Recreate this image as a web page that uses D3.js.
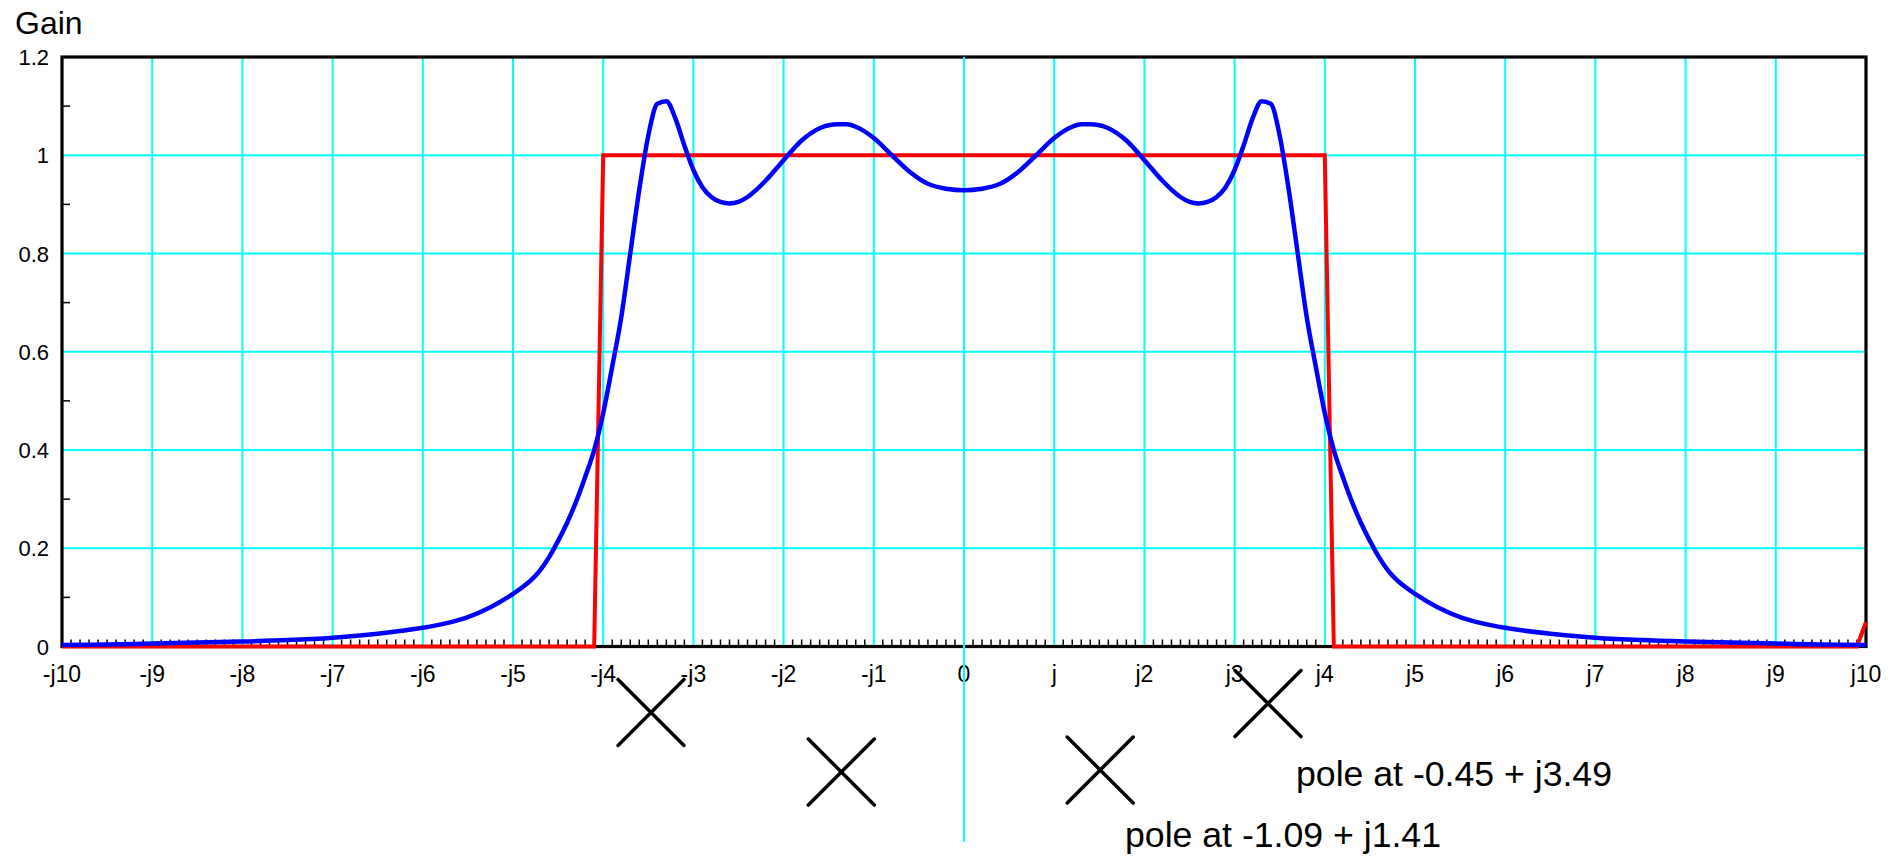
<!DOCTYPE html>
<html>
<head>
<meta charset="utf-8">
<script src="https://cdn.jsdelivr.net/npm/d3@7"></script>
<style>
  body { margin: 0; background: #fff; }
  text { font-family: "Liberation Sans", Arial, sans-serif; fill: #000; }
</style>
</head>
<body>
<div id="chart"></div>
<script>
// Data
const gainX = [-10, -9.5, -9, -8.5, -8, -7.5, -7, -6.5, -6, -5.75, -5.5, -5.25, -5, -4.9, -4.8, -4.7, -4.6, -4.5, -4.4, -4.3, -4.2, -4.1,
  -4, -3.9, -3.8, -3.7, -3.6, -3.5, -3.4, -3.3, -3.2, -3.1, -3, -2.9, -2.8, -2.7, -2.6, -2.5, -2.4, -2.3, -2.2, -2,
  -1.8, -1.6, -1.4, -1.3, -1.2, -1, -0.8, -0.6, -0.4, -0.2, 0,
  0.2, 0.4, 0.6, 0.8, 1, 1.2, 1.3, 1.4, 1.6, 1.8, 2, 2.2, 2.3, 2.4, 2.5, 2.6, 2.7, 2.8, 2.9, 3,
  3.1, 3.2, 3.3, 3.4, 3.5, 3.6, 3.7, 3.8, 3.9, 4, 4.1, 4.2, 4.3, 4.4, 4.5, 4.6, 4.7, 4.8, 4.9, 5, 5.25, 5.5,
  5.75, 6, 6.5, 7, 7.5, 8, 8.5, 9, 9.5, 10]
const gainY = [0.003, 0.004, 0.006, 0.008, 0.010, 0.013, 0.018, 0.026, 0.038, 0.047, 0.060, 0.080, 0.107, 0.120, 0.135, 0.155, 0.182, 0.215, 0.252, 0.295, 0.345, 0.400,
  0.475, 0.57, 0.67, 0.80, 0.93, 1.04, 1.105, 1.11, 1.075, 1.02, 0.97, 0.935, 0.915, 0.905, 0.902, 0.905, 0.915, 0.93, 0.948, 0.99,
  1.03, 1.055, 1.063, 1.063, 1.058, 1.035, 1.0, 0.966, 0.942, 0.932, 0.929,
  0.932, 0.942, 0.966, 1.0, 1.035, 1.058, 1.063, 1.063, 1.055, 1.03, 0.99, 0.948, 0.93, 0.915, 0.905, 0.902, 0.905, 0.915, 0.935, 0.97,
  1.02, 1.075, 1.11, 1.105, 1.04, 0.93, 0.80, 0.67, 0.57, 0.475, 0.400, 0.345, 0.295, 0.252, 0.215, 0.182, 0.155, 0.135, 0.120, 0.107, 0.080, 0.060,
  0.047, 0.038, 0.026, 0.018, 0.013, 0.010, 0.008, 0.006, 0.004, 0.003]

const idealX = [-10, -4.1, -4.0, 4.0, 4.1, 9.9, 10]
const idealY = [0, 0, 1, 1, 0, 0, 0.05]

const xTicks = d3.range(-10, 11)
const xTickLabels = ["-j10", "-j9", "-j8", "-j7", "-j6", "-j5", "-j4", "-j3", "-j2", "-j1", "0",
  "j", "j2", "j3", "j4", "j5", "j6", "j7", "j8", "j9", "j10"]
const yTicks = [0, 0.2, 0.4, 0.6, 0.8, 1, 1.2]
const yTickLabels = ["0", "0.2", "0.4", "0.6", "0.8", "1", "1.2"]

// pole markers (imaginary part along x, real part below the axis)
const poleIm = [-3.47, -1.36, 1.51, 3.37]
const poleRe = [-0.50, -1.10, -1.08, -0.41]
const poleLabels = ["pole at -0.45 + j3.49", "pole at -1.09 + j1.41"]

// Layout
const W = 1904
const H = 860
const mLeft = 62, mRight = 1866, mTop = 57, mBottom = 646.5

const x = d3.scaleLinear().domain([-10, 10]).range([mLeft, mRight])
const y = d3.scaleLinear().domain([0, 1.2]).range([mBottom, mTop])
const yPole = d3.scaleLinear().domain([-0.45, -1.09]).range([707.5, 771])

const svg = d3.select("#chart").append("svg")
    .attr("width", W)
    .attr("height", H)

// grid
svg.append("g")
    .attr("stroke", "#00ffff")
    .attr("stroke-width", 2)
    .selectAll("line")
    .data(xTicks.filter(d => d > -10 && d < 10 && d != 0))
    .join("line")
    .attr("x1", d => x(d)).attr("x2", d => x(d))
    .attr("y1", y(1.2)).attr("y2", y(0))

svg.append("g")
    .attr("stroke", "#00ffff")
    .attr("stroke-width", 2)
    .selectAll("line")
    .data(yTicks.filter(d => d > 0 && d < 1.2))
    .join("line")
    .attr("x1", mLeft).attr("x2", mRight)
    .attr("y1", d => y(d)).attr("y2", d => y(d))

// minor ticks
const xMinor = d3.range(-100, 101).filter(d => d % 10 != 0).map(d => d / 10)
svg.append("g")
    .attr("stroke", "#000")
    .attr("stroke-width", 1.5)
    .selectAll("line")
    .data(xMinor)
    .join("line")
    .attr("x1", d => x(d)).attr("x2", d => x(d))
    .attr("y1", mBottom).attr("y2", mBottom - 7)

const yMinor = [0.1, 0.3, 0.5, 0.7, 0.9, 1.1]
svg.append("g")
    .attr("stroke", "#000")
    .attr("stroke-width", 1.5)
    .selectAll("line")
    .data(yMinor)
    .join("line")
    .attr("x1", mLeft).attr("x2", mLeft + 8)
    .attr("y1", d => y(d)).attr("y2", d => y(d))

// frame
svg.append("rect")
    .attr("x", mLeft).attr("y", mTop)
    .attr("width", mRight - mLeft).attr("height", mBottom - mTop)
    .attr("fill", "none")
    .attr("stroke", "#000")
    .attr("stroke-width", 3.2)

// tick labels
svg.append("g")
    .attr("font-size", 22)
    .attr("text-anchor", "end")
    .selectAll("text")
    .data(yTicks)
    .join("text")
    .attr("x", mLeft - 13)
    .attr("y", d => y(d) + 8)
    .text((d, i) => yTickLabels[i])

svg.append("g")
    .attr("font-size", 23)
    .attr("text-anchor", "middle")
    .selectAll("text")
    .data(xTicks)
    .join("text")
    .attr("x", d => x(d))
    .attr("y", 682)
    .text((d, i) => xTickLabels[i])

svg.append("text")
    .attr("x", 15).attr("y", 34)
    .attr("font-size", 32)
    .text("Gain")

// zero line runs down through the pole plane
svg.append("line")
    .attr("x1", x(0)).attr("x2", x(0))
    .attr("y1", y(1.2)).attr("y2", 842)
    .attr("stroke", "#00ffff")
    .attr("stroke-width", 2)

// curves
const ideal = d3.line()
    .x((d, i) => x(idealX[i]))
    .y(d => y(d))
svg.append("path")
    .datum(idealY)
    .attr("fill", "none")
    .attr("stroke", "#ff0000")
    .attr("stroke-width", 4)
    .attr("d", ideal)

const gain = d3.line()
    .x((d, i) => x(gainX[i]))
    .y(d => y(d))
    .curve(d3.curveMonotoneX)
svg.append("path")
    .datum(gainY)
    .attr("fill", "none")
    .attr("stroke", "#0000ff")
    .attr("stroke-width", 4.5)
    .attr("stroke-linejoin", "round")
    .attr("d", gain)

// pole markers
const r = 33
const marks = svg.append("g")
    .attr("stroke", "#000")
    .attr("stroke-width", 3.5)
    .attr("stroke-linecap", "round")
    .selectAll("g")
    .data(poleIm)
    .join("g")
    .attr("transform", (d, i) => "translate(" + x(d) + "," + yPole(poleRe[i]) + ")")
marks.append("line").attr("x1", -r).attr("y1", -r).attr("x2", r).attr("y2", r)
marks.append("line").attr("x1", -r).attr("y1", r).attr("x2", r).attr("y2", -r)

svg.append("text")
    .attr("x", 1296).attr("y", 786)
    .attr("font-size", 35)
    .attr("textLength", 316)
    .attr("lengthAdjust", "spacingAndGlyphs")
    .text(poleLabels[0])
svg.append("text")
    .attr("x", 1125).attr("y", 847)
    .attr("font-size", 35)
    .attr("textLength", 316)
    .attr("lengthAdjust", "spacingAndGlyphs")
    .text(poleLabels[1])
</script>
</body>
</html>
